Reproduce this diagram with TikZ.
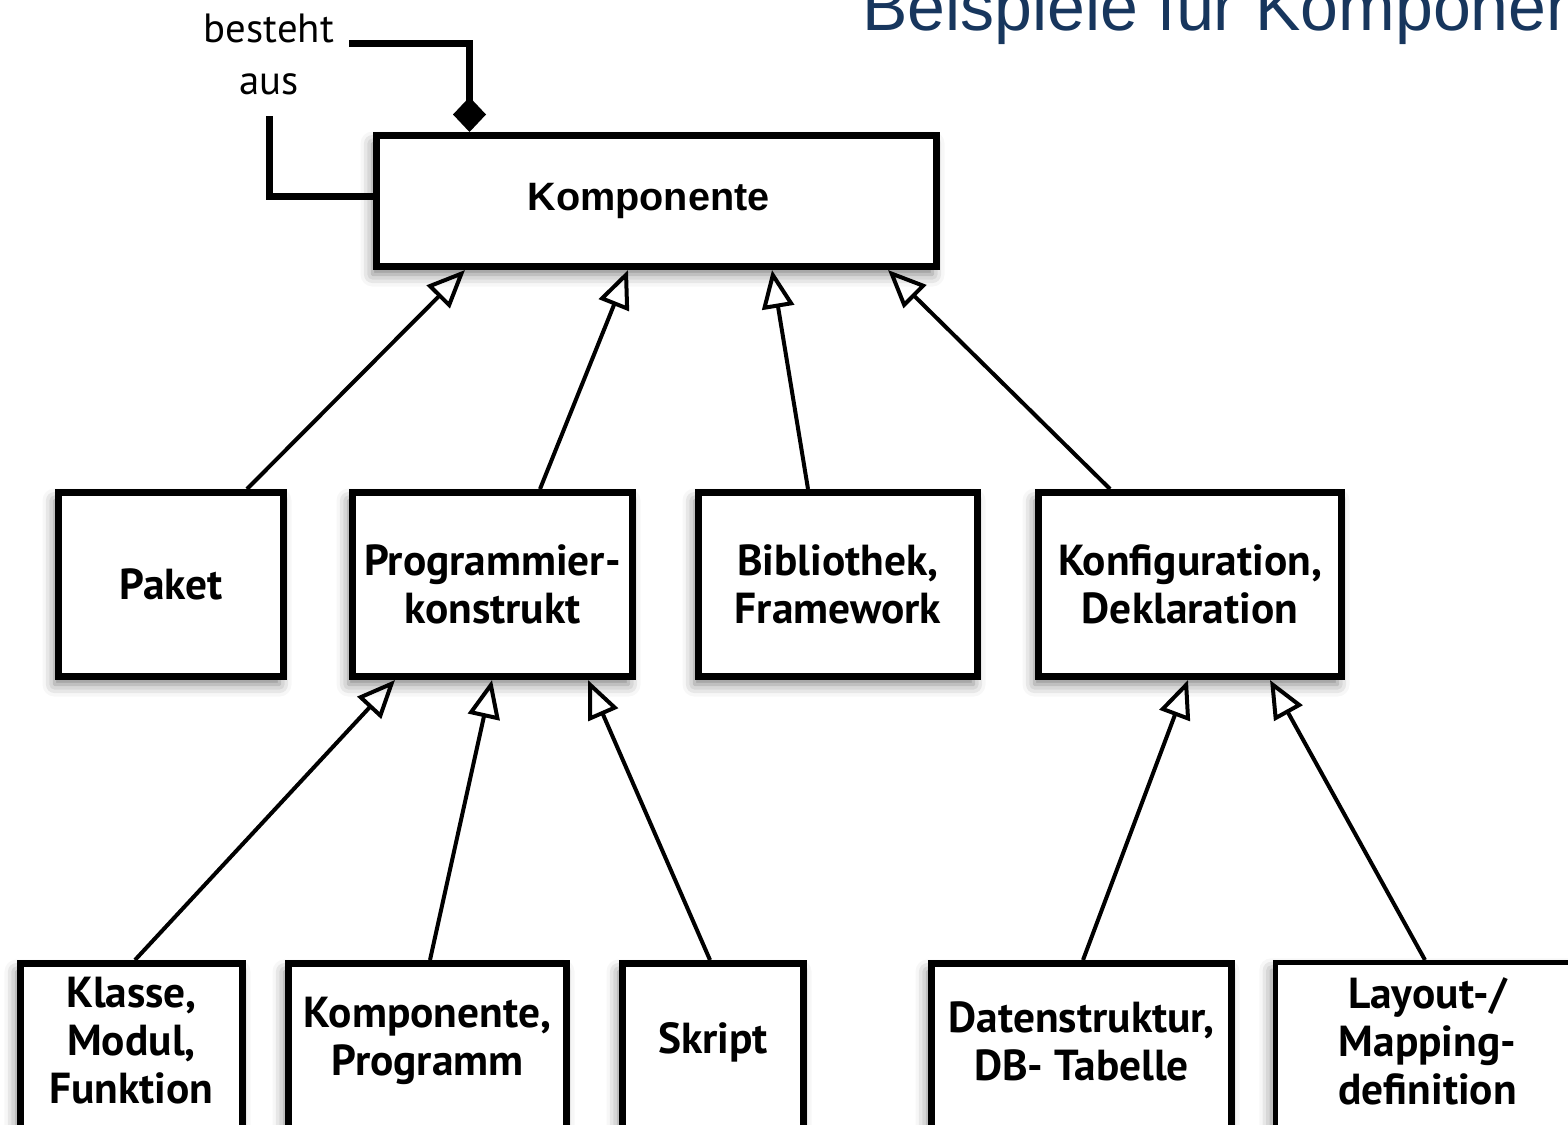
\documentclass[tikz,border=0pt]{standalone}
\usepackage{fontspec}
\setmainfont{PT Sans}
\newfontfamily\arialfont{Liberation Sans}
\usetikzlibrary{arrows.meta,calc,shadows.blur}
\definecolor{titleblue}{RGB}{23,54,93}

\begin{document}
\begin{tikzpicture}[x=0.5pt,y=-0.5pt,
  boxfont/.style={font=\bfseries\fontsize{21.7}{24}\selectfont},
  box/.style={draw,line width=3.5pt,fill=white,rectangle,inner sep=0pt,
    align=center,boxfont,
    blur shadow={shadow xshift=-2pt,shadow yshift=-4pt,shadow blur radius=6pt,shadow opacity=50}},
  lbl/.style={align=center,boxfont,inner sep=0pt},
  gen/.style={line width=2pt,-{Triangle[open,length=19pt,width=16pt]}},
  comp/.style={line width=3.5pt},
]
\useasboundingbox (0,0) rectangle (1568,1124);
\clip (0,0) rectangle (1568,1124);

% title
\node[anchor=base west,inner sep=0pt,text=titleblue,
  font=\arialfont\fontsize{34}{40}\selectfont] (title) at (862,30) {Beispiele für Komponenten};

% top class
\node[box,minimum width=280pt,minimum height=65.5pt,
  font=\arialfont\bfseries\fontsize{19.8}{24}\selectfont] (komp) at (656.5,201) {Komponente\hspace*{8pt}};

% middle row
\node[box,minimum width=112.5pt,minimum height=92pt] (paket) at (171,584.5) {Paket};
\node[box,minimum width=140pt,minimum height=92pt] (prog) at (492.5,584.5) {Programmier-\\konstrukt};
\node[box,minimum width=139.5pt,minimum height=92pt] (bib) at (838,584.5) {Bibliothek,\\Framework};
\node[box,minimum width=151.5pt,minimum height=92pt] (konf) at (1190,584.5) {Konfiguration,\\Deklaration};

% bottom row (boxes run past the lower edge)
\node[box,anchor=north,minimum width=111pt,minimum height=110pt] (klasse) at (131.5,960) {};
\node[box,anchor=north,minimum width=139pt,minimum height=110pt] (kprog) at (427.5,960) {};
\node[box,anchor=north,minimum width=90.5pt,minimum height=110pt] (skript) at (713,960) {};
\node[box,anchor=north,minimum width=150pt,minimum height=110pt] (daten) at (1081.5,960) {};
\node[box,anchor=north,line width=2.25pt,minimum width=152.25pt,minimum height=110pt] (layout) at (1427.5,960) {};

\node[lbl] (klasse-t) at ($(klasse.north)+(0,81)$) {Klasse,\\Modul,\\Funktion};
\node[lbl] (kprog-t) at ($(kprog.north)+(0,81)$) {Komponente,\\Programm};
\node[lbl] (skript-t) at ($(skript.north)+(0,82)$) {Skript};
\node[lbl] (daten-t) at ($(daten.north)+(0,81)$) {Datenstruktur,\\DB- Tabelle};
\node[lbl] (layout-t) at ($(layout.north)+(0,81)$) {Layout-/\\Mapping-\\definition};

% generalisations to Komponente
\draw[gen] ($(paket.north)+(76,0)$) -- ($(komp.south)+(-191.5,0)$);
\draw[gen] ($(prog.north)+(47.5,0)$) -- ($(komp.south)+(-28.5,0)$);
\draw[gen] ($(bib.north)+(-30,0)$) -- ($(komp.south)+(115.5,0)$);
\draw[gen] ($(konf.north)+(-80,0)$) -- ($(komp.south)+(231.5,0)$);

% generalisations to Programmierkonstrukt
\draw[gen] ($(klasse.north)+(3.5,0)$) -- ($(prog.south)+(-97.5,0)$);
\draw[gen] ($(kprog.north)+(2.5,0)$) -- ($(prog.south)+(-0.5,0)$);
\draw[gen] ($(skript.north)+(-3,0)$) -- ($(prog.south)+(95.5,0)$);

% generalisations to Konfiguration
\draw[gen] ($(daten.north)+(1.5,0)$) -- ($(konf.south)+(-2,0)$);
\draw[gen] ($(layout.north)+(-2.5,0)$) -- ($(konf.south)+(80,0)$);

% composition of Komponente with itself
\node[align=center,inner sep=0pt,font=\fontsize{20.4}{26}\selectfont] (rel) at (269,54) {besteht\\aus};
\coordinate (relL) at (269.5,116);
\coordinate (relR) at (349,43.5);
\draw[comp] ($(komp.west)+(0,-5)$) -| (relL);
\draw[comp,-{Diamond[length=17.5pt,width=16.5pt]}] (relR) -| ($(komp.north)+(-187,0)$);

\end{tikzpicture}
\end{document}
